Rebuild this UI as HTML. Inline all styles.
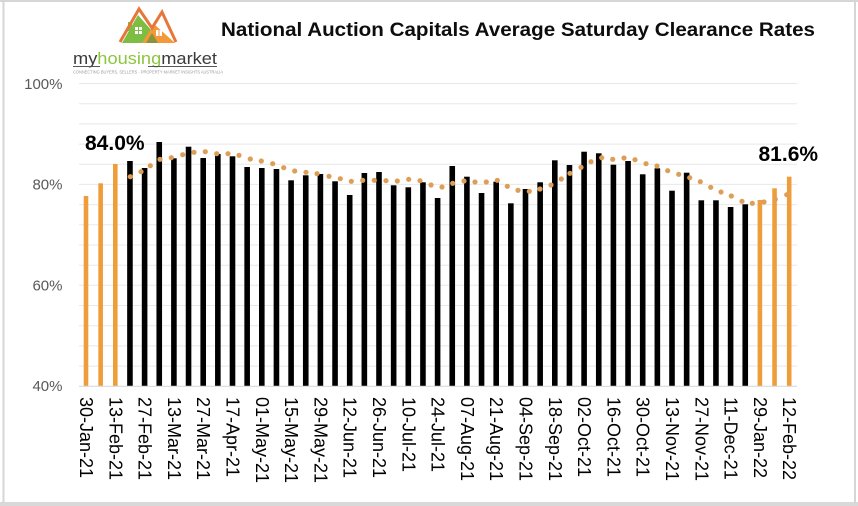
<!DOCTYPE html>
<html>
<head>
<meta charset="utf-8">
<style>
  html, body { margin: 0; padding: 0; background: #ffffff; }
  body { width: 858px; height: 506px; overflow: hidden; }
  svg { display: block; font-family: "Liberation Sans", Arial, sans-serif; }
</style>
</head>
<body>
<svg width="858" height="506" viewBox="0 0 858 506" xmlns="http://www.w3.org/2000/svg">
  <rect x="0" y="0" width="858" height="506" fill="#ffffff"/>
  <!-- frame -->
  <rect x="0" y="0" width="858" height="2" fill="#d6d6d6"/>
  <rect x="0" y="502" width="858" height="4" fill="#d9d9d9"/>
  <rect x="2.5" y="0" width="2" height="503" fill="#d6d6d6"/>
  <rect x="854" y="0" width="2" height="503" fill="#d6d6d6"/>

  <!-- logo -->
  <g>
    <polygon points="122,43 138,15 152,31 152,43" fill="#7cbd42"/>
    <rect x="128" y="22" width="4" height="9" fill="#7cbd42"/>
    <polygon points="142,43 154,24 175,43" fill="#f29a3a"/>
    <polygon points="146,43 152,33 158,43" fill="#5e8f3a" opacity="0.7"/>
    <polyline points="120,42 139,9 152,28 162,12 176,42" fill="none" stroke="#e5773a" stroke-width="3"/>
    <rect x="135" y="27" width="7" height="7" fill="#ffffff"/>
    <rect x="138" y="27" width="1" height="7" fill="#7cbd42"/>
    <rect x="135" y="30" width="7" height="1" fill="#7cbd42"/>
    <rect x="156" y="30" width="6" height="6" fill="#ffffff"/>
    <rect x="158.5" y="30" width="1" height="6" fill="#f29a3a"/>
    <text x="73" y="64" font-size="17" textLength="144" lengthAdjust="spacingAndGlyphs" fill="#3b3b3b"><tspan>my</tspan><tspan fill="#8cc63f">housing</tspan><tspan>market</tspan></text>
    <rect x="73" y="66" width="27" height="1" fill="#555"/>
    <rect x="148" y="66" width="69" height="1" fill="#555"/>
    <text x="73" y="73.5" font-size="4.5" textLength="150" lengthAdjust="spacingAndGlyphs" fill="#9a9a9a">CONNECTING BUYERS, SELLERS · PROPERTY MARKET INSIGHTS AUSTRALIA</text>
  </g>

  <!-- title -->
  <text x="221" y="36" font-size="19" font-weight="bold" fill="#0d0d0d" textLength="594" lengthAdjust="spacingAndGlyphs">National Auction Capitals Average Saturday Clearance Rates</text>

  <!-- gridlines -->
  <g stroke="#e8e8e8" stroke-width="1">
    <line x1="79" y1="83.5" x2="797" y2="83.5"/>
    <line x1="79" y1="103.7" x2="797" y2="103.7"/>
    <line x1="79" y1="123.9" x2="797" y2="123.9"/>
    <line x1="79" y1="144.1" x2="797" y2="144.1"/>
    <line x1="79" y1="164.2" x2="797" y2="164.2"/>
    <line x1="79" y1="184.4" x2="797" y2="184.4"/>
    <line x1="79" y1="204.6" x2="797" y2="204.6"/>
    <line x1="79" y1="224.8" x2="797" y2="224.8"/>
    <line x1="79" y1="245.0" x2="797" y2="245.0"/>
    <line x1="79" y1="265.2" x2="797" y2="265.2"/>
    <line x1="79" y1="285.3" x2="797" y2="285.3"/>
    <line x1="79" y1="305.5" x2="797" y2="305.5"/>
    <line x1="79" y1="325.7" x2="797" y2="325.7"/>
    <line x1="79" y1="345.9" x2="797" y2="345.9"/>
    <line x1="79" y1="366.1" x2="797" y2="366.1"/>
  </g>

  <!-- y labels -->
  <g font-size="15" fill="#595959" text-anchor="end">
    <text x="62.5" y="89">100%</text>
    <text x="62.5" y="189.5">80%</text>
    <text x="62.5" y="290.5">60%</text>
    <text x="62.5" y="391">40%</text>
  </g>

  <!-- bars -->
  <g fill="#ef9d3a">
    <rect x="83.7" y="196" width="4.6" height="190"/>
    <rect x="98.35" y="183.3" width="4.6" height="202.7"/>
    <rect x="113.0" y="164" width="4.6" height="222"/>
    <rect x="757.6" y="200" width="4.6" height="186"/>
    <rect x="772.25" y="188.3" width="4.6" height="197.7"/>
    <rect x="786.9" y="176.7" width="4.6" height="209.3"/>
  </g>
  <g fill="#000000">
    <rect x="127.15" y="161" width="5.6" height="225"/>
    <rect x="141.8" y="168" width="5.6" height="218"/>
    <rect x="156.45" y="142" width="5.6" height="244"/>
    <rect x="171.1" y="158.3" width="5.6" height="227.7"/>
    <rect x="185.75" y="146.7" width="5.6" height="239.3"/>
    <rect x="200.4" y="158" width="5.6" height="228"/>
    <rect x="215.05" y="154" width="5.6" height="232"/>
    <rect x="229.7" y="156.3" width="5.6" height="229.7"/>
    <rect x="244.35" y="167" width="5.6" height="219"/>
    <rect x="259.0" y="168" width="5.6" height="218"/>
    <rect x="273.65" y="169" width="5.6" height="217"/>
    <rect x="288.3" y="180.3" width="5.6" height="205.7"/>
    <rect x="302.95" y="175.3" width="5.6" height="210.7"/>
    <rect x="317.6" y="174" width="5.6" height="212"/>
    <rect x="332.25" y="181.3" width="5.6" height="204.7"/>
    <rect x="346.9" y="195" width="5.6" height="191"/>
    <rect x="361.55" y="173" width="5.6" height="213"/>
    <rect x="376.2" y="172" width="5.6" height="214"/>
    <rect x="390.85" y="185.3" width="5.6" height="200.7"/>
    <rect x="405.5" y="187.3" width="5.6" height="198.7"/>
    <rect x="420.15" y="182.3" width="5.6" height="203.7"/>
    <rect x="434.8" y="198" width="5.6" height="188"/>
    <rect x="449.45" y="166" width="5.6" height="220"/>
    <rect x="464.1" y="176.7" width="5.6" height="209.3"/>
    <rect x="478.75" y="193" width="5.6" height="193"/>
    <rect x="493.4" y="181.7" width="5.6" height="204.3"/>
    <rect x="508.05" y="203.3" width="5.6" height="182.7"/>
    <rect x="522.7" y="189" width="5.6" height="197"/>
    <rect x="537.35" y="182.3" width="5.6" height="203.7"/>
    <rect x="552.0" y="160.3" width="5.6" height="225.7"/>
    <rect x="566.65" y="165" width="5.6" height="221"/>
    <rect x="581.3" y="151.7" width="5.6" height="234.3"/>
    <rect x="595.95" y="153.3" width="5.6" height="232.7"/>
    <rect x="610.6" y="164.7" width="5.6" height="221.3"/>
    <rect x="625.25" y="161" width="5.6" height="225"/>
    <rect x="639.9" y="174.3" width="5.6" height="211.7"/>
    <rect x="654.55" y="168.3" width="5.6" height="217.7"/>
    <rect x="669.2" y="190.7" width="5.6" height="195.3"/>
    <rect x="683.85" y="172.7" width="5.6" height="213.3"/>
    <rect x="698.5" y="200.3" width="5.6" height="185.7"/>
    <rect x="713.15" y="200.3" width="5.6" height="185.7"/>
    <rect x="727.8" y="207" width="5.6" height="179"/>
    <rect x="742.45" y="204.3" width="5.6" height="181.7"/>
  </g>

  <!-- x axis line -->
  <line x1="79" y1="386.3" x2="797" y2="386.3" stroke="#d9d9d9" stroke-width="1.2"/>

  <!-- trend dots -->
  <g fill="#dd9f58">
    <circle cx="130.3" cy="176.7" r="2.6"/><circle cx="141" cy="171.7" r="2.6"/><circle cx="150.3" cy="165.7" r="2.6"/>
    <circle cx="160" cy="159.3" r="2.6"/><circle cx="171.3" cy="157.7" r="2.6"/><circle cx="182.7" cy="154.7" r="2.6"/>
    <circle cx="194" cy="152.3" r="2.6"/><circle cx="205.3" cy="151.7" r="2.6"/><circle cx="216.7" cy="153.7" r="2.6"/>
    <circle cx="228" cy="153.7" r="2.6"/><circle cx="239" cy="155.3" r="2.6"/><circle cx="250.3" cy="159" r="2.6"/>
    <circle cx="261.3" cy="161" r="2.6"/><circle cx="272.7" cy="163.7" r="2.6"/><circle cx="283.7" cy="167.7" r="2.6"/>
    <circle cx="294.7" cy="171" r="2.6"/><circle cx="306" cy="172.3" r="2.6"/><circle cx="317" cy="173.7" r="2.6"/>
    <circle cx="329" cy="176.3" r="2.6"/><circle cx="340.3" cy="178.7" r="2.6"/><circle cx="351.3" cy="181.3" r="2.6"/>
    <circle cx="362.7" cy="180.3" r="2.6"/><circle cx="374.3" cy="180.3" r="2.6"/><circle cx="386" cy="180.7" r="2.6"/>
    <circle cx="397.3" cy="181" r="2.6"/><circle cx="408.7" cy="179.3" r="2.6"/><circle cx="420" cy="180.7" r="2.6"/>
    <circle cx="431" cy="185" r="2.6"/><circle cx="442" cy="187" r="2.6"/><circle cx="452.7" cy="183.3" r="2.6"/>
    <circle cx="464" cy="181" r="2.6"/><circle cx="475" cy="182" r="2.6"/><circle cx="486.3" cy="182" r="2.6"/>
    <circle cx="497.3" cy="180.3" r="2.6"/><circle cx="507.3" cy="186.3" r="2.6"/><circle cx="518" cy="190.3" r="2.6"/>
    <circle cx="529.3" cy="191.3" r="2.6"/><circle cx="540" cy="189" r="2.6"/><circle cx="551" cy="185" r="2.6"/>
    <circle cx="561.3" cy="179" r="2.6"/><circle cx="570" cy="173.3" r="2.6"/><circle cx="581" cy="167.3" r="2.6"/>
    <circle cx="591" cy="161.7" r="2.6"/><circle cx="601.7" cy="157.7" r="2.6"/><circle cx="612.7" cy="159.3" r="2.6"/>
    <circle cx="624" cy="158" r="2.6"/><circle cx="635" cy="159.7" r="2.6"/><circle cx="646" cy="163.7" r="2.6"/>
    <circle cx="657" cy="166" r="2.6"/><circle cx="667.7" cy="170.7" r="2.6"/><circle cx="678.7" cy="174.3" r="2.6"/>
    <circle cx="689.7" cy="177.7" r="2.6"/><circle cx="700.3" cy="181.7" r="2.6"/><circle cx="710.7" cy="187.3" r="2.6"/>
    <circle cx="721" cy="192" r="2.6"/><circle cx="731.3" cy="196" r="2.6"/><circle cx="742" cy="201.3" r="2.6"/>
    <circle cx="752.3" cy="203.3" r="2.6"/><circle cx="764" cy="202" r="2.6"/><circle cx="775.3" cy="199.3" r="2.6"/>
    <circle cx="786.7" cy="194.7" r="2.6"/>
  </g>

  <!-- data labels -->
  <text x="85" y="150" font-size="21" font-weight="bold" fill="#000">84.0%</text>
  <text x="758.5" y="161" font-size="21" font-weight="bold" fill="#000">81.6%</text>

  <!-- x labels -->
  <g font-size="18" fill="#000">
    <text transform="translate(86,397) rotate(90)" x="0" y="6">30-Jan-21</text>
    <text transform="translate(115.3,397) rotate(90)" x="0" y="6">13-Feb-21</text>
    <text transform="translate(144.6,397) rotate(90)" x="0" y="6">27-Feb-21</text>
    <text transform="translate(173.9,397) rotate(90)" x="0" y="6">13-Mar-21</text>
    <text transform="translate(203.2,397) rotate(90)" x="0" y="6">27-Mar-21</text>
    <text transform="translate(232.5,397) rotate(90)" x="0" y="6">17-Apr-21</text>
    <text transform="translate(261.8,397) rotate(90)" x="0" y="6">01-May-21</text>
    <text transform="translate(291.1,397) rotate(90)" x="0" y="6">15-May-21</text>
    <text transform="translate(320.4,397) rotate(90)" x="0" y="6">29-May-21</text>
    <text transform="translate(349.7,397) rotate(90)" x="0" y="6">12-Jun-21</text>
    <text transform="translate(379,397) rotate(90)" x="0" y="6">26-Jun-21</text>
    <text transform="translate(408.3,397) rotate(90)" x="0" y="6">10-Jul-21</text>
    <text transform="translate(437.6,397) rotate(90)" x="0" y="6">24-Jul-21</text>
    <text transform="translate(466.9,397) rotate(90)" x="0" y="6">07-Aug-21</text>
    <text transform="translate(496.2,397) rotate(90)" x="0" y="6">21-Aug-21</text>
    <text transform="translate(525.5,397) rotate(90)" x="0" y="6">04-Sep-21</text>
    <text transform="translate(554.8,397) rotate(90)" x="0" y="6">18-Sep-21</text>
    <text transform="translate(584.1,397) rotate(90)" x="0" y="6">02-Oct-21</text>
    <text transform="translate(613.4,397) rotate(90)" x="0" y="6">16-Oct-21</text>
    <text transform="translate(642.7,397) rotate(90)" x="0" y="6">30-Oct-21</text>
    <text transform="translate(672,397) rotate(90)" x="0" y="6">13-Nov-21</text>
    <text transform="translate(701.3,397) rotate(90)" x="0" y="6">27-Nov-21</text>
    <text transform="translate(730.6,397) rotate(90)" x="0" y="6">11-Dec-21</text>
    <text transform="translate(759.9,397) rotate(90)" x="0" y="6">29-Jan-22</text>
    <text transform="translate(789.2,397) rotate(90)" x="0" y="6">12-Feb-22</text>
  </g>
</svg>
</body>
</html>
